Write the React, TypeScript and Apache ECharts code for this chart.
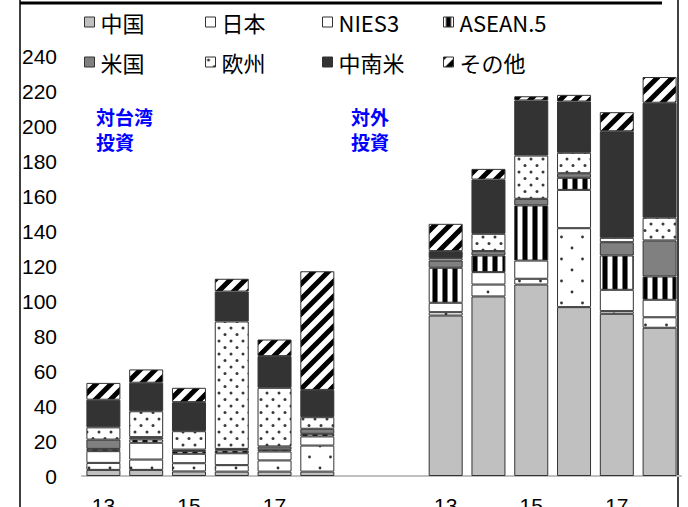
import React, { useEffect, useRef } from "react";
import * as echarts from "echarts";

const CATEGORIES = ["13", "14", "15", "16", "17", "18", "", " ", "13", "14", "15", "16", "17", "18"];
const Y_TICKS = [0, 20, 40, 60, 80, 100, 120, 140, 160, 180, 200, 220, 240];
const SERIES_NAMES = ["中国", "日本", "NIES3", "ASEAN.5", "米国", "欧州", "中南米", "その他"];

// first 6 values: 対台湾投資 (13-18), last 6: 対外投資 (13-18)
const CHINA = [3.5, 3.5, 2.6, 2.5, 2.5, 2.5, 91.7, 102.6, 109.4, 96.5, 92.7, 84.7];
const JAPAN = [4.0, 5.9, 4.7, 3.7, 6.4, 14.9, 1.9, 6.8, 3.3, 45.1, 1.5, 6.0];
const NIES3 = [6.7, 9.6, 5.4, 6.8, 5.1, 5.2, 5.4, 7.1, 10.4, 21.9, 12.2, 10.0];
const ASEAN5 = [1.3, 1.9, 1.5, 1.6, 1.0, 1.5, 20.0, 9.5, 31.5, 6.9, 19.6, 13.3];
const USA = [5.3, 1.3, 0.9, 0.9, 1.9, 2.9, 4.1, 2.5, 3.8, 2.6, 7.6, 20.6];
const EUROPE = [7.0, 14.8, 10.5, 72.8, 33.5, 6.6, 1.4, 9.9, 24.7, 11.7, 2.5, 13.0];
const LATAM = [15.8, 16.3, 16.6, 17.1, 18.1, 15.6, 4.0, 31.0, 31.5, 29.3, 60.9, 65.7];
const OTHERS = [9.6, 7.6, 8.2, 7.3, 9.5, 67.8, 15.6, 6.1, 2.4, 3.8, 10.9, 14.7];

const SERIES_VALUES = [CHINA, JAPAN, NIES3, ASEAN5, USA, EUROPE, LATAM, OTHERS];

function toSeriesData(arr: number[]) {
  return [...arr.slice(0, 6), null, null, ...arr.slice(6)];
}

function makePattern(w: number, h: number, draw: (ctx: CanvasRenderingContext2D) => void) {
  const c = document.createElement("canvas");
  c.width = w;
  c.height = h;
  const ctx = c.getContext("2d")!;
  ctx.fillStyle = "#ffffff";
  ctx.fillRect(0, 0, w, h);
  draw(ctx);
  return { image: c.toDataURL(), repeat: "repeat", imageWidth: w, imageHeight: h };
}

function dot(ctx: CanvasRenderingContext2D, x: number, y: number, r: number) {
  ctx.beginPath();
  ctx.arc(x, y, r, 0, Math.PI * 2);
  ctx.fill();
}

export default function App() {
  const ref = useRef<HTMLDivElement>(null);

  useEffect(() => {
    if (!ref.current) return;
    const chart = echarts.init(ref.current, null, { renderer: "svg" });

    const sparseDots = makePattern(21, 22, (ctx) => {
      ctx.fillStyle = "#333";
      dot(ctx, 5, 6, 1.4);
      dot(ctx, 15.5, 17, 1.4);
    });
    const denseDots = makePattern(12, 13, (ctx) => {
      ctx.fillStyle = "#3a3a3a";
      dot(ctx, 3, 3, 1.5);
      dot(ctx, 9, 9.5, 1.5);
    });
    const vStripes = makePattern(10, 10, (ctx) => {
      ctx.fillStyle = "#777";
      ctx.fillRect(2, 0, 1, 10);
      ctx.fillRect(7, 0, 1, 10);
      ctx.fillStyle = "#000";
      ctx.fillRect(3, 0, 4, 10);
    });
    const diag = makePattern(15, 15, (ctx) => {
      ctx.strokeStyle = "#000";
      ctx.lineWidth = 5;
      ctx.beginPath();
      ctx.moveTo(-2, 17);
      ctx.lineTo(17, -2);
      ctx.moveTo(-9.5, 9.5);
      ctx.lineTo(9.5, -9.5);
      ctx.moveTo(5.5, 24.5);
      ctx.lineTo(24.5, 5.5);
      ctx.stroke();
    });

    const colors: any[] = ["#c0c0c0", sparseDots, "#ffffff", vStripes, "#808080", denseDots, "#333333", diag];
    const legendIconColors: any[] = ["#c0c0c0", "#ffffff", "#ffffff", vStripes, "#808080", denseDots, "#333333", diag];

    const legendPos = [
      [84, 11], [205, 11], [322, 11], [443, 11],
      [84, 51], [205, 51], [322, 51], [443, 51],
    ];

    const legends = SERIES_NAMES.map((name, i) => ({
      data: [{ name, itemStyle: { color: legendIconColors[i], borderColor: "#333", borderWidth: 1 } }],
      left: legendPos[i][0],
      top: legendPos[i][1],
      padding: 0,
      icon: "rect",
      itemWidth: 10,
      itemHeight: 10,
      selectedMode: false,
      textStyle: { fontSize: 22, color: "#000", fontFamily: "Noto Sans CJK JP", padding: [0, 0, 0, 1] },
    }));

    const series = SERIES_NAMES.map((name, i) => ({
      name,
      type: "bar",
      stack: "total",
      barWidth: 34,
      data: toSeriesData(SERIES_VALUES[i]),
      itemStyle: { color: colors[i], borderColor: "#333", borderWidth: 1 },
    }));

    chart.setOption({
      animation: false,
      backgroundColor: "#ffffff",
      grid: { left: 82, right: 7, top: 56, bottom: 31, containLabel: false, outerBoundsMode: "none" },
      legend: legends,
      xAxis: {
        type: "category",
        data: CATEGORIES,
        axisLine: { show: true, lineStyle: { color: "#c0c0c0", width: 2 } },
        axisTick: { show: false },
        axisLabel: {
          interval: 1,
          fontSize: 21,
          color: "#000",
          margin: 19,
          fontFamily: "Liberation Sans",
        },
      },
      yAxis: {
        type: "value",
        min: Y_TICKS[0],
        max: Y_TICKS[Y_TICKS.length - 1],
        interval: Y_TICKS[1] - Y_TICKS[0],
        splitLine: { show: false },
        axisLine: { show: false },
        axisTick: { show: false },
        axisLabel: { fontSize: 21, color: "#000", margin: 25, fontFamily: "Liberation Sans" },
      },
      graphic: [
        { type: "line", shape: { x1: 20, y1: 0, x2: 20, y2: 507 }, style: { stroke: "#000", lineWidth: 1.5 } },
        { type: "line", shape: { x1: 678, y1: 0, x2: 678, y2: 507 }, style: { stroke: "#000", lineWidth: 1.5 } },
        { type: "line", shape: { x1: 20, y1: 3, x2: 662, y2: 3 }, style: { stroke: "#000", lineWidth: 3 } },
        {
          type: "text",
          left: 96,
          top: 107,
          style: { text: "対台湾", fill: "#0000ff", font: "bold 19px 'Noto Sans CJK JP'" },
        },
        {
          type: "text",
          left: 96,
          top: 132,
          style: { text: "投資", fill: "#0000ff", font: "bold 19px 'Noto Sans CJK JP'" },
        },
        {
          type: "text",
          left: 351,
          top: 107,
          style: { text: "対外", fill: "#0000ff", font: "bold 19px 'Noto Sans CJK JP'" },
        },
        {
          type: "text",
          left: 351,
          top: 132,
          style: { text: "投資", fill: "#0000ff", font: "bold 19px 'Noto Sans CJK JP'" },
        },
      ],
      series,
    });

    return () => chart.dispose();
  }, []);

  return (
    <div
      ref={ref}
      style={{ position: "fixed", left: 0, top: 0, width: 688, height: 507, background: "#fff" }}
    />
  );
}
